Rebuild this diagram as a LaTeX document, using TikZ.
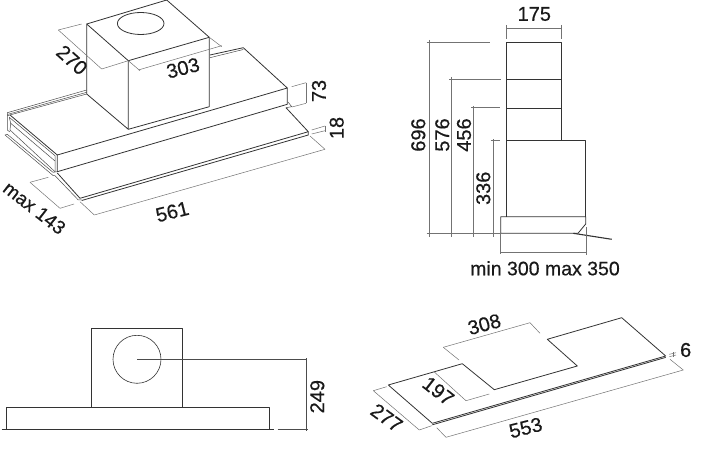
\documentclass[tikz,border=0pt]{standalone}
\usepackage{fontspec}
\newfontfamily\dimfont[FakeBold=0.5]{Liberation Sans}
\tikzstyle{outline}=[draw, color=black!80, line width=0.8pt, line join=round]
\tikzstyle{thinline}=[draw, color=black!70, line width=0.5pt]
\tikzstyle{dimline}=[draw, color=black!55, line width=0.5pt]
\tikzstyle{dimtext}=[inner sep=0pt, text=black!90, font=\dimfont\fontsize{20}{22}\selectfont]
\begin{document}
\begin{tikzpicture}[x=1pt,y=-1pt]
\useasboundingbox (0,0) rectangle (702,465);
% hood with duct, top left
\draw[outline] (86.7,94) -- (86.7,24) -- (128.3,60.7) -- (128.3,129.3) -- (86.7,94);
\draw[outline] (86.7,24) -- (166.7,0) -- (209.3,37.3) -- (209.3,106.7) -- (128.3,129.3);
\draw[outline] (128.3,60.7) -- (209.3,37.3);
\draw[outline] (140.7,23.5) ellipse [x radius=23.3pt, y radius=11pt];
\draw[outline] (10,115) -- (57.3,155) -- (126,135);
\draw[outline] (209.3,110.8) -- (287.3,88) -- (243.3,47.7) -- (210,55);
\draw[outline] (126,135) -- (209.3,110.8);
\draw[outline] (287.3,88) -- (287.3,104.3) -- (57.3,171.7) -- (57.3,155);
\foreach \ya/\yb in {112.7/90,114.5/92.3,115.7/94}
\draw[thinline] (7.3,\ya) -- (86.7,\yb);
\draw[thinline] (210,57.7) -- (243.3,49.5);
\draw[thinline] (7.3,112.7) -- (7.3,130) -- (10,132);
\draw[thinline] (9.3,117.3) -- (55,155.7) -- (55,172);
\draw[thinline] (10.7,123.3) -- (55,161);
\draw[thinline] (9.3,117.3) -- (10.7,123.3) -- (10,130) -- (55,171.7);
\draw[thinline] (5,135) -- (7.3,134.3) -- (53,172.3) -- (57.3,171.7);
\draw[thinline] (5,135) -- (53.3,175.7) -- (55,175.7) -- (78.3,200) -- (81.7,200);
\draw[outline] (57.3,173) -- (80,198.3) -- (308.3,131.7) -- (286,107.7);
\draw[outline] (81.7,200.5) -- (308.3,135) -- (308.3,131.7);
\draw[thinline] (286,107.7) -- (291.7,106.7) -- (288,102);
% dimensions, top left
\foreach \xa/\ya/\xb/\yb in {58.3/30/101.7/69,58.3/30/81.7/24,101.7/69/128.3/60.7,
  138.3/70/221.7/45.7,128.3/60.7/140/70.7,209.3/37.3/221.7/46.7,
  306/82.7/306/103.3,291.7/86.7/306/82.7,292/107/306/103.3,
  325/126/325/132,311.7/130/325/126,311.7/134/325/130.7,
  94.3/215/325/149.3,80/201.7/94.3/215,310/136/325/149.3,
  30/182.3/60/208.3,30/182.3/48.3/177.3,60/208.3/74/204}
\draw[dimline] (\xa,\ya) -- (\xb,\yb);
\node[dimtext,rotate=-42] (width270) at (72,60) {270};
\node[dimtext,rotate=14] (width303) at (183,68) {303};
\node[dimtext,rotate=90] (height73) at (319,91) {73};
\node[dimtext,rotate=90] (height18) at (336.7,128) {18};
\node[dimtext,rotate=14] (width561) at (172.3,211.7) {561};
\node[dimtext,rotate=-38,font=\dimfont\fontsize{19}{22}\selectfont] (depth143) at (34.5,208) {max 143};
% side view, top right
\draw[outline] (506,216.7) -- (506,42.3) -- (561,42.3) -- (561,140.7);
\foreach \y in {79.3,108.3,140.7}
\draw[outline] (506,\y) -- (561,\y);
\draw[outline] (561,140.7) -- (585.3,140.7) -- (585.3,216.7);
\draw[outline] (500.7,233.3) -- (500.7,216.7) -- (585.7,216.7) -- (585.7,224) -- (578,233.3) -- cycle;
\draw[outline, line width=1.1pt] (573.3,233.3) -- (611.7,239.3);
\foreach \xa/\ya/\xb/\yb in {506/28.3/561/28.3,506/25/506/39.3,561/25/561/39.3,
  429.3/40/429.3/237,426.7/42.3/490/42.3,
  451.7/77/451.7/237,449.3/79.3/500.7/79.3,
  473.3/106/473.3/237,471/107.7/500/107.7,
  493.3/139.3/493.3/237,490.7/140.3/500/140.3,
  426.7/233.3/500.7/233.3,
  500.7/252.7/586/252.7,500.7/233/500.7/254,586/227/586/255}
\draw[dimline] (\xa,\ya) -- (\xb,\yb);
\node[dimtext] (width175) at (534.3,14) {175};
\node[dimtext,rotate=90] (height696) at (418.3,135) {696};
\node[dimtext,rotate=90] (height576) at (442.3,135) {576};
\node[dimtext,rotate=90] (height456) at (464,135) {456};
\node[dimtext,rotate=90] (height336) at (483.3,188.3) {336};
\node[dimtext,font=\dimfont\fontsize{19.5}{22}\selectfont] (depthrange) at (545,268.3) {min 300 max 350};
% front view, bottom left
\draw[outline] (91.7,407.3) -- (91.7,328.3) -- (182.7,328.3) -- (182.7,407.3);
\draw[outline, line width=0.6pt] (137,359.3) circle [radius=24pt];
\draw[outline] (6.7,429) -- (6.7,407.3) -- (269.3,407.3) -- (269.3,429);
\draw[outline] (1.7,429.3) -- (274,429.3);
\foreach \xa/\ya/\xb/\yb in {137/359.3/306/359.3,306/358.3/306/431,277.7/429.3/308.3/429.3}
\draw[dimline, color=black!70] (\xa,\ya) -- (\xb,\yb);
\node[dimtext,rotate=90] (height249) at (317.3,396.7) {249};
% cut-out template, bottom right
\draw[outline] (388.3,385) -- (462.3,363.7) -- (494.3,389.7) -- (577.3,366) -- (547.3,339.3)
  -- (621.7,317.7) -- (665.7,356) -- (432.3,423.3) -- cycle;
\draw[outline] (432.3,424.8) -- (665.7,357.4);
\foreach \xa/\ya/\xb/\yb in {443.3/347.3/530/322.7,443.3/347.3/459/360,530/322.7/540/333.3,
  434/371.7/466/400.7,466/400.7/489.3/394,
  373.3/390.7/419.3/430,373.3/390.7/386.7/386.7,419.3/430/431.7/425.7,
  446/437.3/683.3/370,436.7/427.7/446/437.3,670/359.3/683.3/370,
  669.3/354.3/676/352.7,669.3/356.7/676/355,673/352/673/357}
\draw[dimline] (\xa,\ya) -- (\xb,\yb);
\node[dimtext,rotate=15] (width308) at (484.3,324.3) {308};
\node[dimtext,rotate=-38] (depth197) at (438.3,391) {197};
\node[dimtext,rotate=-36] (depth277) at (386.7,417.7) {277};
\node[dimtext,rotate=14] (width553) at (525.7,427.7) {553};
\node[dimtext] (thick6) at (685.7,350) {6};
\end{tikzpicture}
\end{document}
